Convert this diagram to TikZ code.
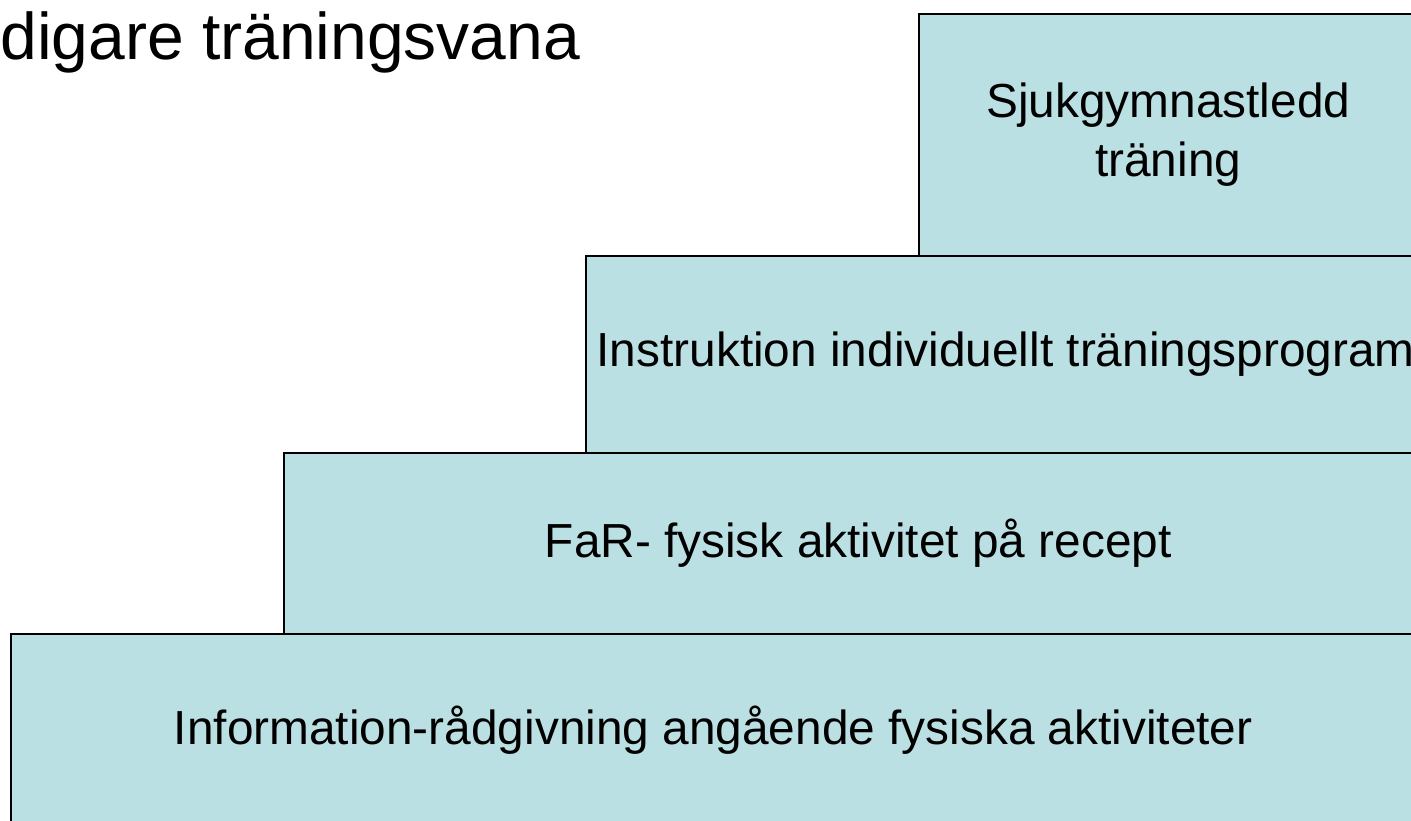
\documentclass[tikz,border=0pt]{standalone}
\usepackage{fontspec}
\setmainfont{Liberation Sans}
\usepackage{tikz}

\definecolor{stepfill}{RGB}{187,224,227}

\tikzset{
  stepbox/.style={draw=black, line width=0.75pt, fill=stepfill, rectangle,
    anchor=north west, inner sep=0pt, align=center,
    font=\fontsize{23.9}{29.5}\selectfont},
}

\begin{document}
\begin{tikzpicture}[x=0.5pt,y=-0.5pt]
  \useasboundingbox (0,0) rectangle (1411,820);
  \clip (0,0) rectangle (1411,820);
  % Bottom step
  \node[stepbox, minimum width=702.5pt, minimum height=96pt] (info) at (10,633)
    {Information-rådgivning angående fysiska aktiviteter};
  % Second step
  \node[stepbox, minimum width=574.5pt, minimum height=90.5pt] (far) at (283,452)
    {FaR- fysisk aktivitet på recept};
  % Third step
  \node[stepbox, minimum width=420pt, minimum height=98.5pt] (instr) at (585,255)
    {Instruktion individuellt träningsprogram};
  % Top step
  \node[stepbox, minimum width=249.5pt, minimum height=121pt] (sjuk) at (918,13)
    {Sjukgymnastledd\\träning};
  % Heading, cut at the left edge
  \node[font=\fontsize{33}{39}\selectfont, anchor=base west, inner sep=0pt] (title) at (0,59)
    {digare träningsvana};
\end{tikzpicture}
\end{document}
